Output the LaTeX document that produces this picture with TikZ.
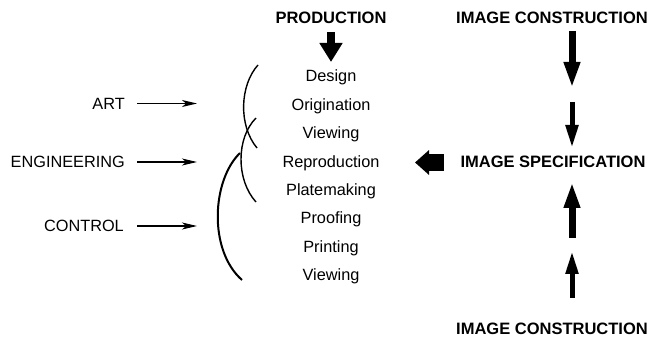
\documentclass[tikz,border=0pt]{standalone}
\usepackage{fontspec}
\setmainfont{Liberation Sans}
\usetikzlibrary{arrows.meta}
\begin{document}
\begin{tikzpicture}[x=1pt,y=-1pt,
  item/.style={anchor=base,inner sep=0pt,font=\fontsize{16.3}{19}\selectfont},
  lab/.style={anchor=base east,inner sep=0pt,font=\fontsize{16.3}{19}\selectfont},
  head/.style={anchor=base,inner sep=0pt,font=\fontsize{16.5}{19}\selectfont\bfseries},
  thin/.style={line width=1.2pt,-{Stealth[length=15pt,width=7pt,inset=4pt]}},
  bigA/.style={line width=7pt,-{Triangle[length=26pt,width=15pt]}},
  smallA/.style={line width=5pt,-{Triangle[length=23pt,width=12pt]}},
  brace/.style={line width=1.4pt}]
\useasboundingbox (0,0) rectangle (654,339);
% headings
\node[head] (prod) at (331,24) {PRODUCTION};
\node[head] (ictop) at (552,24) {IMAGE CONSTRUCTION};
\node[head] (spec) at (553,168) {IMAGE SPECIFICATION};
\node[head] (icbot) at (552,335) {IMAGE CONSTRUCTION};
% list
\node[item] (i1) at (331,82) {Design};
\node[item] (i2) at (331,110.4) {Origination};
\node[item] (i3) at (331,138.8) {Viewing};
\node[item] (i4) at (331,167.2) {Reproduction};
\node[item] (i5) at (331,195.6) {Platemaking};
\node[item] (i6) at (331,224) {Proofing};
\node[item] (i7) at (331,252.4) {Printing};
\node[item] (i8) at (331,280.8) {Viewing};
% left labels
\node[lab] (art) at (125,110) {ART};
\node[lab] (eng) at (125,167.5) {ENGINEERING};
\node[lab] (ctl) at (124,231.5) {CONTROL};
\coordinate (artE) at (197,103.5);
\coordinate (engE) at (197,162);
\coordinate (ctlE) at (197,226);
\draw[thin] (art.east |- artE) ++(12,0) -- (artE);
\draw[thin] (eng.east |- engE) ++(12,0) -- (engE);
\draw[thin] (ctl.east |- ctlE) ++(13,0) -- (ctlE);
% brackets
\draw[brace] (258,65) .. controls (240,85) and (238,125) .. (257,148);
\draw[brace] (256,118) .. controls (236,138) and (236,180) .. (256,202);
\draw[line width=2pt] (240,153) .. controls (212,180) and (208,250) .. (242,280);
% production arrow
\coordinate (pa) at (331,32);
\coordinate (pb) at (331,62);
\draw[line width=8pt,-{Triangle[length=19pt,width=22pt]}] (pa) -- (pb);
% right arrows
\coordinate (r1a) at (572,31);
\coordinate (r1b) at (572,88);
\coordinate (r2a) at (572,102);
\coordinate (r2b) at (572,148);
\coordinate (r3a) at (572,238);
\coordinate (r3b) at (572,182);
\coordinate (r4a) at (572,298);
\coordinate (r4b) at (572,251);
\draw[bigA] (r1a) -- (r1b);
\draw[smallA] (r2a) -- (r2b);
\draw[bigA] (r3a) -- (r3b);
\draw[smallA] (r4a) -- (r4b);
% fat left arrow
\coordinate (fa) at (444,162.5);
\coordinate (fb) at (415,162.5);
\draw[line width=17pt,-{Triangle[length=14pt,width=24pt]}] (fa) -- (fb);
\end{tikzpicture}
\end{document}
